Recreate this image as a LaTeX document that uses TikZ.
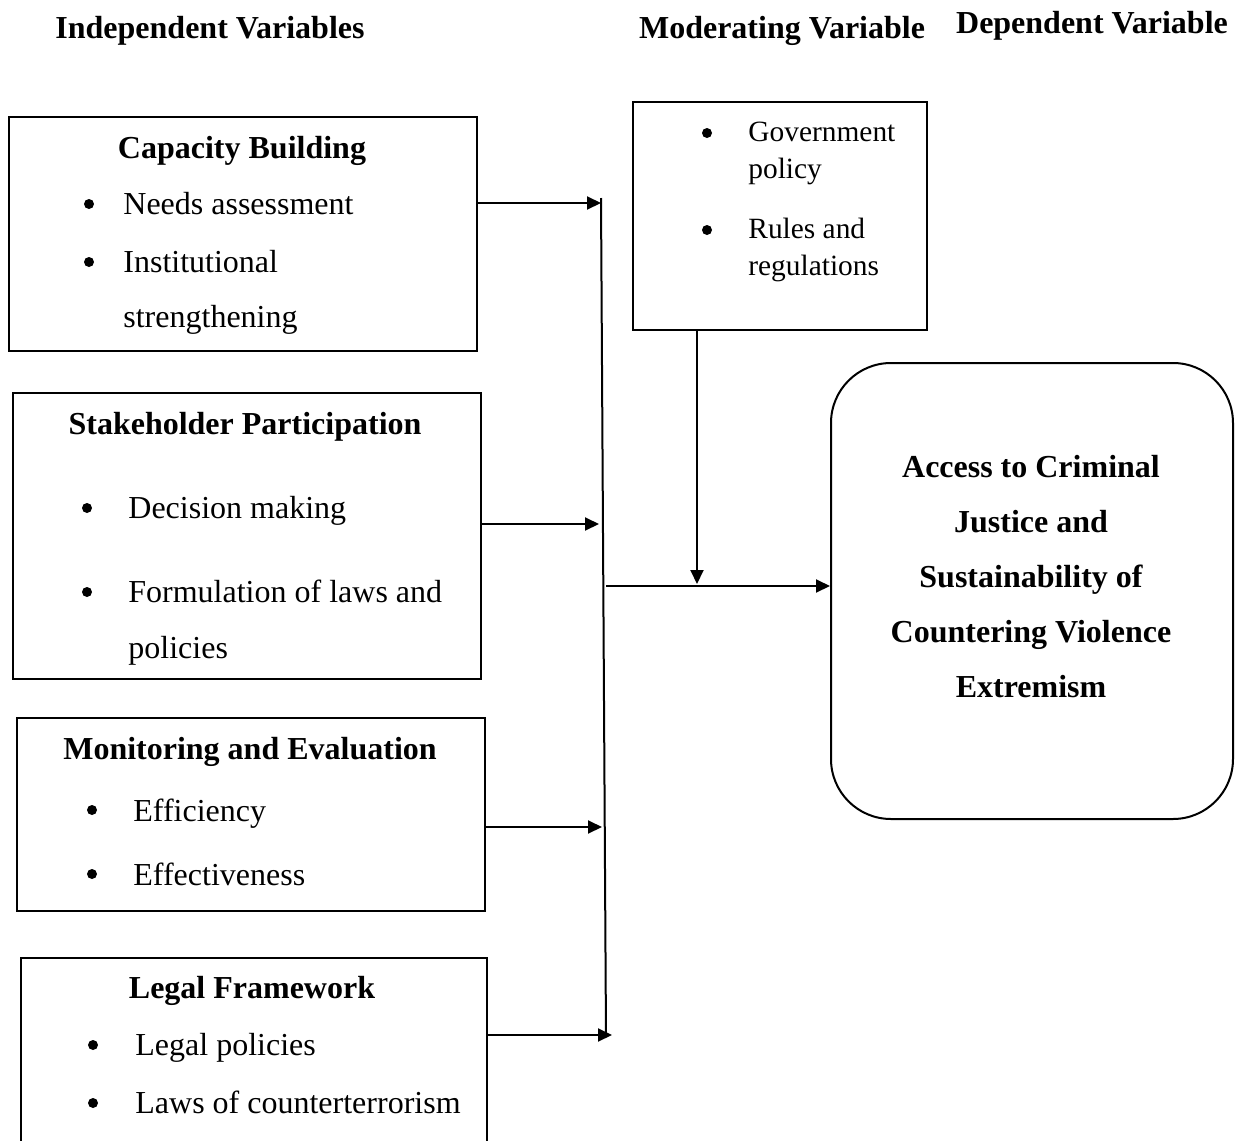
\documentclass[tikz,border=0pt]{standalone}
\usepackage{fontspec}
\setmainfont{Liberation Serif}
\usetikzlibrary{arrows.meta, positioning}

\tikzset{
  box/.style={draw, line width=1pt, anchor=north west, inner sep=0pt},
  arr/.style={line width=1pt, -{Triangle[length=7pt, width=6.5pt]}},
  ttl/.style={anchor=base, inner sep=0pt, font=\fontsize{16}{20}\selectfont\bfseries},
  itm/.style={anchor=base west, inner sep=0pt},
  moditm/.style={anchor=base west, inner sep=0pt, font=\fontsize{14.7}{18}\selectfont},
  dot/.style={circle, fill, inner sep=0pt, minimum size=5pt},
}

\begin{document}
\begin{tikzpicture}[x=0.5pt, y=-0.5pt, font=\fontsize{16}{20}\selectfont]
      \useasboundingbox (0,0) rectangle (1244,1141);

      \node[ttl] (h1) at (210,38) {Independent Variables};
      \node[ttl] (h2) at (782,38) {Moderating Variable};
      \node[ttl] (h3) at (1092,33) {Dependent Variable};

      % independent variables
      \node[box, minimum width=234pt, minimum height=117pt] (cb) at (8,116) {};
      \node[ttl] (cbt) at (242,158) {Capacity Building};
      \node[dot] at (89,204) {};
      \node[itm] at (123,214) {Needs assessment};
      \node[dot] at (89,262) {};
      \node[itm] at (123,272) {Institutional};
      \node[itm] at (123,327) {strengthening};

      \node[box, minimum width=234pt, minimum height=143pt] (sp) at (12,392) {};
      \node[ttl] (spt) at (245,434) {Stakeholder Participation};
      \node[dot] at (87,508) {};
      \node[itm] at (128,518) {Decision making};
      \node[dot] at (87,592) {};
      \node[itm] at (128,602) {Formulation of laws and};
      \node[itm] at (128,658) {policies};

      \node[box, minimum width=234pt, minimum height=96.5pt] (me) at (16,717) {};
      \node[ttl] (met) at (250,759) {Monitoring and Evaluation};
      \node[dot] at (92,810) {};
      \node[itm] at (133,821) {Efficiency};
      \node[dot] at (92,874) {};
      \node[itm] at (133,885) {Effectiveness};

      \node[box, minimum width=233pt, minimum height=100pt] (lf) at (20,957) {};
      \node[ttl] (lft) at (252,998) {Legal Framework};
      \node[dot] at (93,1045) {};
      \node[itm] at (135,1055) {Legal policies};
      \node[dot] at (93,1103) {};
      \node[itm] at (135,1113) {Laws of counterterrorism};

      % moderating variable
      \node[box, minimum width=147pt, minimum height=114pt] (mod) at (632,101) {};
      \node[dot] at (707,133) {};
      \node[moditm] at (748,141) {Government};
      \node[moditm] at (748,178) {policy};
      \node[dot] at (707,230) {};
      \node[moditm] at (748,238) {Rules and};
      \node[moditm] at (748,275) {regulations};

      % dependent variable
      \node[box, rounded corners=30pt, minimum width=201pt, minimum height=228pt] (dep) at (830,362) {};
      \node[align=center, font=\fontsize{16}{27.5}\selectfont\bfseries] (dept) at (1031,577)
           {Access to Criminal\\Justice and\\Sustainability of\\Countering Violence\\Extremism};

      % connectors
      \coordinate (top) at (601,198);
      \coordinate (bot) at (606,1037);
      \coordinate (j1) at (601,203);
      \coordinate (j2) at (599,524);
      \coordinate (j3) at (602,827);
      \coordinate (j4) at (612,1035);
      \coordinate (jo) at (606,586);
      \coordinate (jm) at (697,584);

      \draw[line width=1pt] (top) -- (bot);
      \draw[arr] (cb.east |- j1) -- (j1);
      \draw[arr] (sp.east |- j2) -- (j2);
      \draw[arr] (me.east |- j3) -- (j3);
      \draw[arr] (lf.east |- j4) -- (j4);
      \draw[arr] (jo) -- (dep.west |- jo);
      \draw[arr] (mod.south -| jm) -- (jm);
\end{tikzpicture}
\end{document}
